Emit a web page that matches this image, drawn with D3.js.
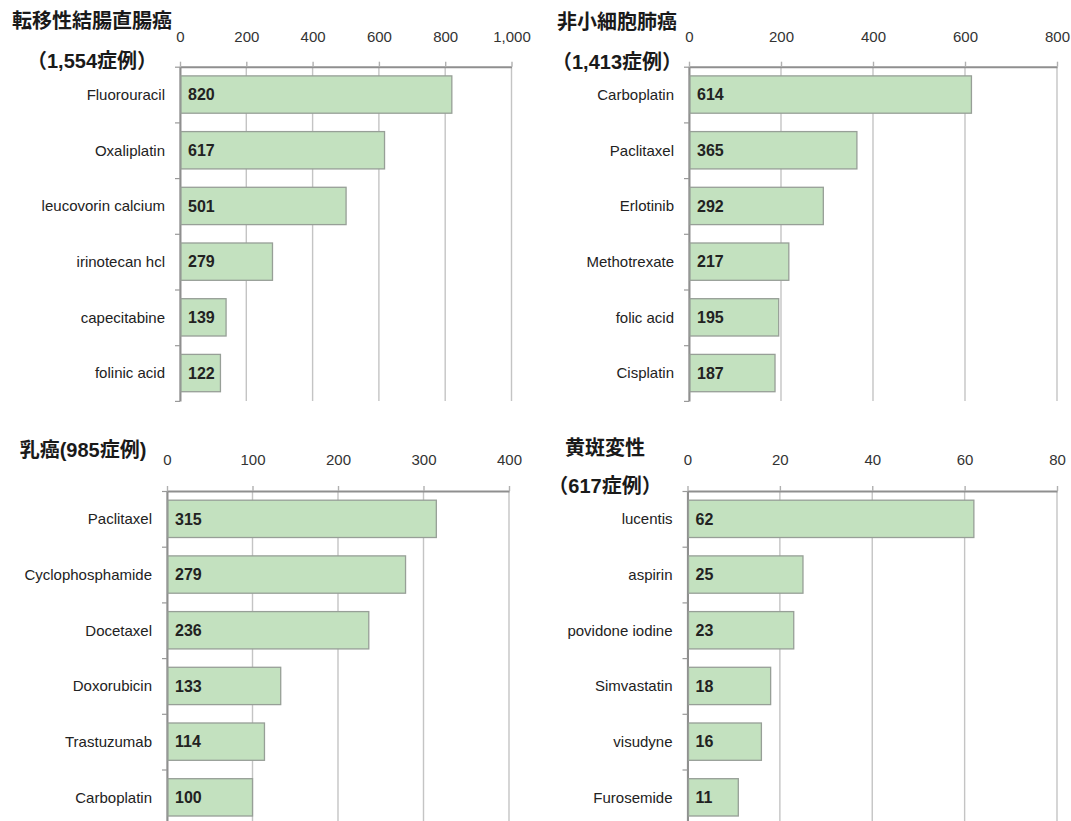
<!DOCTYPE html>
<html>
<head>
<meta charset="utf-8">
<script src="https://cdn.jsdelivr.net/npm/d3@7"></script>
<style>
  html, body { margin: 0; padding: 0; background: #fff; }
  svg { display: block; }
  .title { font-family: "Liberation Sans", Arial, "Noto Sans CJK JP", sans-serif; font-weight: bold; font-size: 20px; fill: #1a1a1a; }
  .tick-label { font-family: "Liberation Sans", Arial, sans-serif; font-size: 15px; fill: #333; }
  .cat-label { font-family: "Liberation Sans", Arial, sans-serif; font-size: 15px; fill: #222; }
  .val-label { font-family: "Liberation Sans", Arial, sans-serif; font-size: 16px; font-weight: bold; fill: #222; }
</style>
</head>
<body>
<svg id="chart" width="1071" height="821"></svg>
<script>
// ---- Data: drug counts per disease ----
const crcDrugs   = ["Fluorouracil", "Oxaliplatin", "leucovorin calcium", "irinotecan hcl", "capecitabine", "folinic acid"];
const crcCounts  = [820, 617, 501, 279, 139, 122];
const crcTicks   = [0, 200, 400, 600, 800, 1000];

const nsclcDrugs  = ["Carboplatin", "Paclitaxel", "Erlotinib", "Methotrexate", "folic acid", "Cisplatin"];
const nsclcCounts = [614, 365, 292, 217, 195, 187];
const nsclcTicks  = [0, 200, 400, 600, 800];

const breastDrugs  = ["Paclitaxel", "Cyclophosphamide", "Docetaxel", "Doxorubicin", "Trastuzumab", "Carboplatin"];
const breastCounts = [315, 279, 236, 133, 114, 100];
const breastTicks  = [0, 100, 200, 300, 400];

const amdDrugs  = ["lucentis", "aspirin", "povidone iodine", "Simvastatin", "visudyne", "Furosemide"];
const amdCounts = [62, 25, 23, 18, 16, 11];
const amdTicks  = [0, 20, 40, 60, 80];

const crcTitle    = ["転移性結腸直腸癌", "（1,554症例）"];
const nsclcTitle  = ["非小細胞肺癌", "（1,413症例）"];
const breastTitle = ["乳癌(985症例)"];
const amdTitle    = ["黄斑変性", "（617症例）"];

// ---- Panel layout ----
const panels = [
  { drugs: crcDrugs,    counts: crcCounts,    ticks: crcTicks,    title: crcTitle,
    x0: 180, x1: 511.5, top: 66.7, pad: 20, titleX: 92,  titleY: [21, 61] },
  { drugs: nsclcDrugs,  counts: nsclcCounts,  ticks: nsclcTicks,  title: nsclcTitle,
    x0: 689, x1: 1057,  top: 66.7, pad: 20, titleX: 617, titleY: [22, 62] },
  { drugs: breastDrugs, counts: breastCounts, ticks: breastTicks, title: breastTitle,
    x0: 167, x1: 509,   top: 491,  pad: 21, titleX: 83,  titleY: [450] },
  { drugs: amdDrugs,    counts: amdCounts,    ticks: amdTicks,    title: amdTitle,
    x0: 687.5, x1: 1057, top: 491, pad: 21, titleX: 605, titleY: [448, 486] }
];

const STEP = 55.7;
const svg = d3.select("#chart");

panels.forEach(p => {
  const n = p.drugs.length;
  const bottom = p.top + STEP * n;
  const g = svg.append("g");

  const x = d3.scaleLinear().domain([0, p.ticks[p.ticks.length - 1]]).range([p.x0, p.x1]);
  const y = d3.scaleBand().domain(p.drugs).range([p.top, bottom])
    .paddingInner(0.33).paddingOuter(0.165);

  // vertical gridlines
  g.append("g").selectAll("line").data(p.ticks).join("line")
    .attr("x1", d => x(d)).attr("x2", d => x(d))
    .attr("y1", p.top).attr("y2", bottom)
    .attr("stroke", "#c4c4c4").attr("stroke-width", 1.4);

  // top value axis
  const xAxis = g.append("g").attr("transform", `translate(0,${p.top})`)
    .call(d3.axisTop(x).tickValues(p.ticks).tickSize(5).tickSizeOuter(0)
      .tickPadding(p.pad).tickFormat(d3.format(",")));
  xAxis.select(".domain").attr("stroke", "#8f8f8f").attr("stroke-width", 2);
  xAxis.selectAll(".tick line").attr("stroke", "#b0b0b0").attr("stroke-width", 1.4);
  xAxis.selectAll(".tick text").attr("class", "tick-label").attr("fill", null);
  xAxis.attr("font-size", null).attr("font-family", null);

  // category boundary ticks on the left axis
  const idx = d3.scaleLinear().domain([0, n]).range([p.top, bottom]);
  const leftAxis = g.append("g").attr("transform", `translate(${p.x0},0)`)
    .call(d3.axisLeft(idx).tickValues(d3.range(n + 1)).tickSize(5).tickSizeOuter(0).tickFormat(""));
  leftAxis.select(".domain").attr("stroke", "#8f8f8f").attr("stroke-width", 2);
  leftAxis.selectAll(".tick line").attr("stroke", "#999").attr("stroke-width", 1.2);

  // category labels
  g.append("g").selectAll("text").data(p.drugs).join("text")
    .attr("class", "cat-label")
    .attr("x", p.x0 - 15)
    .attr("y", d => y(d) + y.bandwidth() / 2)
    .attr("dy", "0.35em")
    .attr("text-anchor", "end")
    .text(d => d);

  // bars
  const rows = p.drugs.map((d, i) => ({ drug: d, count: p.counts[i] }));
  g.append("g").selectAll("rect").data(rows).join("rect")
    .attr("x", x(0) + 1)
    .attr("y", d => y(d.drug))
    .attr("width", d => x(d.count) - x(0) - 1)
    .attr("height", y.bandwidth())
    .attr("fill", "#c3e1bf")
    .attr("stroke", "#979f97")
    .attr("stroke-width", 1.3);

  // value labels inside bars
  g.append("g").selectAll("text").data(rows).join("text")
    .attr("class", "val-label")
    .attr("x", x(0) + 8)
    .attr("y", d => y(d.drug) + y.bandwidth() / 2)
    .attr("dy", "0.36em")
    .text(d => d3.format(",")(d.count));

  // panel title
  g.append("g").selectAll("text").data(p.title).join("text")
    .attr("class", "title")
    .attr("x", p.titleX)
    .attr("y", (d, i) => p.titleY[i])
    .attr("dy", "0.36em")
    .attr("text-anchor", "middle")
    .text(d => d);
});
</script>
</body>
</html>
